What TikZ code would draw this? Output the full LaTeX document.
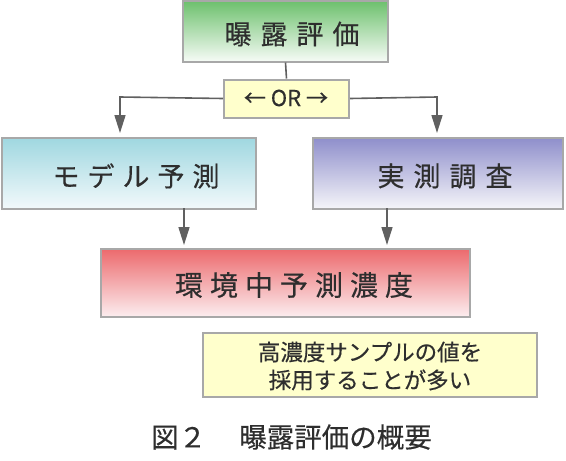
\documentclass[tikz,border=0pt]{standalone}
\usepackage{fontspec}
\setmainfont{Noto Sans CJK JP}[FakeBold=0.4]
\usetikzlibrary{arrows.meta}
\definecolor{edgegray}{HTML}{A8A8A8}
\definecolor{linegray}{HTML}{606060}
\definecolor{txt}{HTML}{2E2E2E}
\definecolor{notefill}{HTML}{FFFFCC}
\definecolor{gtop}{HTML}{6CC06C}
\definecolor{gbot}{HTML}{F6FBF6}
\definecolor{ctop}{HTML}{9FD7E0}
\definecolor{cbot}{HTML}{F2F9FB}
\definecolor{ptop}{HTML}{8E8ECB}
\definecolor{pbot}{HTML}{F5F5F9}
\definecolor{rtop}{HTML}{EC6A6D}
\definecolor{rbot}{HTML}{FCEEF0}
\tikzset{
  boxbase/.style={draw=edgegray, line width=2pt, rectangle, inner sep=0pt},
  lab/.style={text=txt, inner sep=0pt, anchor=center},
  conn/.style={draw=linegray, line width=1.6pt},
  arr/.style={conn, -{Triangle[width=11pt,length=18pt]}},
}
\begin{document}
\begin{tikzpicture}[x=1pt,y=-1pt]
\useasboundingbox (0,0) rectangle (566,461);
% boxes
\node[boxbase, top color=gtop, bottom color=gbot, minimum width=205pt, minimum height=61pt] (top) at (285.5,31) {};
\node[boxbase, fill=notefill, minimum width=125pt, minimum height=38pt] (or) at (286.5,98.5) {};
\node[boxbase, top color=ctop, bottom color=cbot, minimum width=254pt, minimum height=71pt] (model) at (129,173) {};
\node[boxbase, top color=ptop, bottom color=pbot, minimum width=250pt, minimum height=71pt] (meas) at (437.5,173) {};
\node[boxbase, top color=rtop, bottom color=rbot, minimum width=369pt, minimum height=68pt] (conc) at (285.5,283) {};
\node[boxbase, fill=notefill, minimum width=334pt, minimum height=64pt] (note) at (370,365) {};
% labels
\node[lab, font=\fontsize{27}{30}\selectfont] (toplab) at (292,34) {曝\kern9pt 露\kern9pt 評\kern9pt 価};
\node[lab, font=\fontsize{22}{24}\selectfont] (orlab) at (286,98) {← OR →};
\node[lab, font=\fontsize{27}{30}\selectfont] (modellab) at (136,176) {モ\kern8pt デ\kern8pt ル\kern8pt 予\kern8pt 測};
\node[lab, font=\fontsize{27}{30}\selectfont] (measlab) at (445,176) {実\kern9pt 測\kern9pt 調\kern9pt 査};
\node[lab, font=\fontsize{28}{30}\selectfont] (conclab) at (294,285) {環\kern7pt 境\kern7pt 中\kern7pt 予\kern7pt 測\kern7pt 濃\kern7pt 度};
\node[lab, font=\fontsize{22.5}{28}\selectfont, align=center] (notelab) at (370,366) {高濃度サンプルの値を\\採用することが多い};
\node[lab, font=\fontsize{27.5}{30}\selectfont] (cap) at (291.5,437) {図２\kern33pt 曝露評価の概要};
% connectors
\coordinate (lc) at (120,97);
\coordinate (rc) at (437,97);
\draw[conn] (top.south) -- (or.north);
\draw[arr] (or.west) -- (lc) -- (120,133);
\draw[arr] (or.east) -- (rc) -- (437,133);
\draw[arr] (184,208) -- (184,245);
\draw[arr] (387,208) -- (387,245);
\end{tikzpicture}
\end{document}
